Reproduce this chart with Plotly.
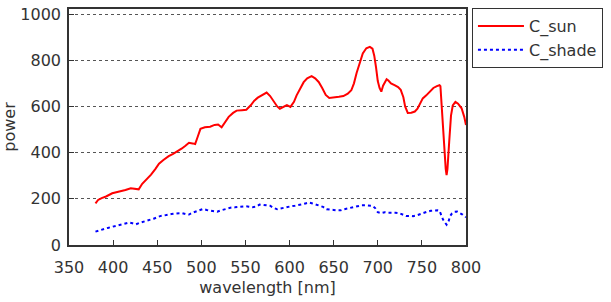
import plotly.graph_objects as go

sun_wl = [380,383,387,392,399,404,409,414,420,425,429,433,438,443,448,452,457,463,468,473,478,482,486,490,493,496,499,504,510,515,519,523,527,531,536,540,546,551,556,560,564,569,574,578,582,586,589,593,597,601,605,608,612,616,620,625,629,633,637,641,645,650,656,661,666,670,673,676,680,683,687,691,694,696,698,700,702,704,706,708,710,712,715,719,723,726,729,731,734,738,742,745,748,751,755,759,763,767,770,771,773,775,777,778,779,781,783,785,788,791,795,798,800]
sun_val = [180,195,203,210,224,228,231,238,246,244,241,265,285,305,330,352,368,385,395,405,418,430,443,440,437,470,503,510,512,520,522,510,530,555,572,582,584,586,605,625,638,650,660,645,620,600,590,598,606,598,620,648,680,705,722,731,722,706,680,650,637,638,642,645,655,670,700,745,790,830,852,858,850,820,770,710,680,664,690,705,718,712,700,692,684,672,640,600,572,573,578,590,610,635,648,665,680,688,692,688,560,420,330,303,330,450,560,604,620,612,592,555,520]

shade_wl = [380,383,386,390,394,398,402,406,410,414,418,422,426,430,434,438,442,446,450,454,458,462,466,470,474,478,482,486,490,494,498,502,506,510,514,518,522,526,530,534,538,542,546,550,554,558,562,566,570,574,578,582,586,590,594,598,602,606,610,614,618,622,626,630,634,638,642,646,650,654,658,662,666,670,674,678,682,686,690,694,697,700,704,708,712,716,720,724,728,732,736,740,744,748,752,756,760,764,768,770,772,774,776,778,780,782,784,787,790,793,796,800]
shade_val = [58,62,66,70,74,78,82,86,92,95,97,94,90,96,100,104,108,114,120,126,128,132,134,136,136,138,134,132,140,145,150,156,152,150,148,144,150,155,158,162,163,165,168,168,166,164,166,175,174,172,170,160,155,158,162,165,168,170,172,176,180,184,180,176,172,165,155,152,152,150,150,155,158,162,167,170,172,172,172,170,160,142,138,142,140,141,140,138,132,126,126,125,128,134,140,144,148,150,150,148,128,110,98,88,100,125,136,144,145,140,132,120]

x_ticks = [350,400,450,500,550,600,650,700,750,800]
y_ticks = [0,200,400,600,800,1000]

font = dict(family="DejaVu Sans", size=16, color="#333")

fig = go.Figure()
fig.add_trace(go.Scatter(x=sun_wl, y=sun_val, mode="lines", name="C_sun",
                         line=dict(color="#ff0000", width=2)))
fig.add_trace(go.Scatter(x=shade_wl, y=shade_val, mode="lines", name="C_shade",
                         line=dict(color="#0000ff", width=2, dash="3px,3px")))

fig.update_layout(
    width=611, height=302,
    margin=dict(l=69, r=145, t=9, b=57, autoexpand=False),
    paper_bgcolor="white", plot_bgcolor="white",
    font=font,
    showlegend=True,
    legend=dict(x=1.015, y=1.004, xanchor="left", yanchor="top",
                bordercolor="#333", borderwidth=1, bgcolor="white",
                font=dict(family="DejaVu Sans", size=16, color="#333"),
                tracegroupgap=0, itemwidth=46),
)
fig.update_xaxes(range=[350, 800], tickvals=x_ticks, ticks="inside", ticklen=5,
                 tickcolor="#333", showline=True, linecolor="#333", linewidth=1.5,
                 mirror=True, showgrid=False, zeroline=False, automargin=False,
                 ticklabelstandoff=7,
                 title=dict(text="wavelength [nm]", standoff=6, font=font))
fig.update_yaxes(range=[0, 1022], tickvals=y_ticks, ticks="inside", ticklen=5,
                 tickcolor="#333", showline=True, linecolor="#333", linewidth=1.5,
                 mirror=True, showgrid=True, gridcolor="#555", griddash="3px,3px",
                 gridwidth=1, zeroline=False, automargin=False,
                 ticklabelstandoff=3,
                 title=dict(text="power", standoff=4, font=font))

fig.write_html("out.html", config={"displayModeBar": False},
               post_script="document.body.style.margin='0';")
